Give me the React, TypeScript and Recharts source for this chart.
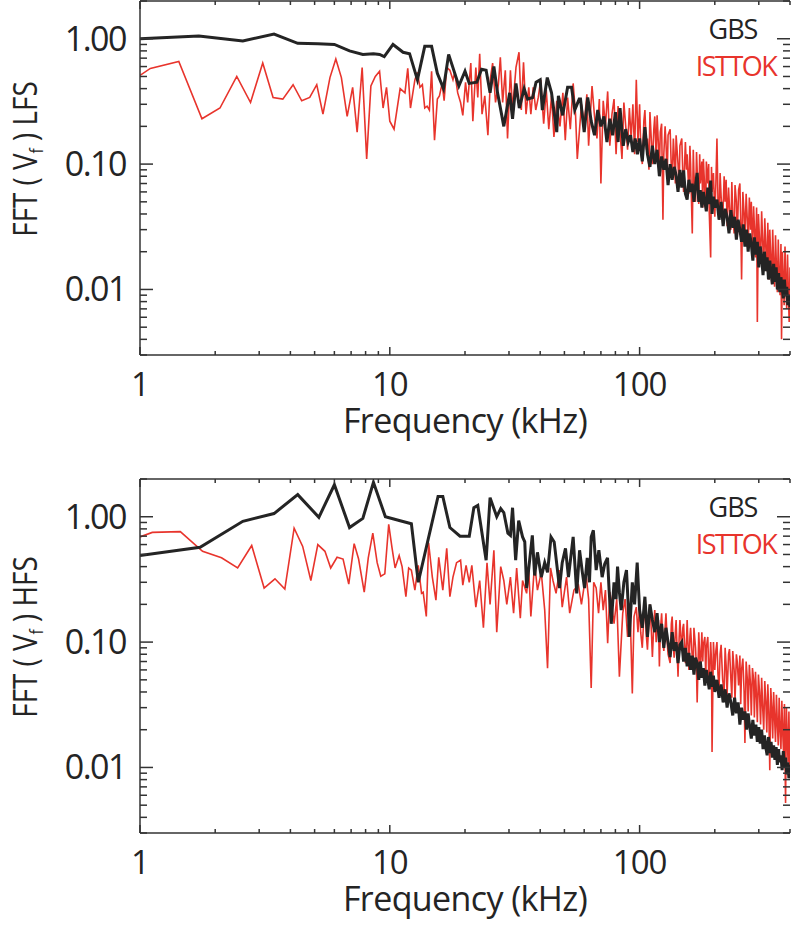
import { Customized, Line, LineChart, ReferenceLine, XAxis, YAxis } from 'recharts';

// [frequency kHz, amplitude]
const LFS_GBS = [
    [1, 1.0], [1.72, 1.05], [2.58, 0.96], [3.44, 1.09], [4.28, 0.92], [5.15, 0.91], [6.0, 0.9], [6.9, 0.8],
    [7.8, 0.75], [8.6, 0.76], [9.1, 0.75], [9.5, 0.72], [10.3, 0.9], [11.3, 0.78], [12.0, 0.76], [12.9, 0.47],
    [13.8, 0.87], [14.7, 0.87], [15.5, 0.53], [16.4, 0.4], [17.2, 0.75], [18.9, 0.42], [20, 0.55], [20.8, 0.44],
    [22.3, 0.45], [23.3, 0.57], [24.3, 0.56], [25.2, 0.37], [26.1, 0.6], [27, 0.37], [28.6, 0.2], [30.2, 0.37],
    [31, 0.23], [32, 0.44], [33, 0.28], [34.5, 0.4], [35.6, 0.33], [37.3, 0.34], [38.5, 0.45], [40, 0.47],
    [40.8, 0.27], [42.7, 0.49], [44.4, 0.37], [46.6, 0.18], [47.3, 0.35], [49.2, 0.245], [51.5, 0.41], [53.4, 0.41],
    [55, 0.27], [57.3, 0.33], [58, 0.33], [60, 0.18], [62, 0.34], [64, 0.22], [66, 0.17], [68, 0.27],
    [70, 0.2], [72, 0.24], [74, 0.15], [76, 0.23], [78, 0.17], [80, 0.26], [82, 0.15], [83.5, 0.28],
    [86, 0.14], [88, 0.19], [90, 0.15], [92, 0.17], [94, 0.125], [96, 0.16], [98, 0.12], [100, 0.16],
    [102.5, 0.105], [105, 0.197], [107.5, 0.12], [110, 0.095], [112.5, 0.14], [115, 0.1], [117.5, 0.13], [120, 0.08],
    [122.5, 0.115], [125, 0.09], [127.5, 0.11], [130, 0.068], [132.5, 0.1], [135, 0.075], [137.5, 0.095], [140, 0.082],
    [142.5, 0.06], [145, 0.09], [147.5, 0.065], [150, 0.089], [152.5, 0.058], [155, 0.052], [157.5, 0.075], [160, 0.06],
    [162.5, 0.07], [165, 0.05], [167.5, 0.068], [170, 0.085], [172.5, 0.05], [175, 0.062], [177.5, 0.045], [180, 0.06],
    [182.5, 0.05], [185, 0.042], [187.5, 0.065], [190, 0.048], [192.5, 0.074], [195, 0.04], [197.5, 0.055], [200, 0.045],
    [204, 0.052], [208, 0.036], [212, 0.05], [216, 0.032], [220, 0.044], [224, 0.038], [228, 0.028], [232, 0.043],
    [236, 0.031], [240, 0.038], [244, 0.025], [248, 0.036], [252, 0.03], [256, 0.024], [260, 0.033], [264, 0.022],
    [268, 0.03], [272, 0.02], [276, 0.028], [280, 0.023], [284, 0.017], [288, 0.026], [292, 0.019], [296, 0.024],
    [300, 0.015], [304, 0.022], [308, 0.018], [312, 0.013], [316, 0.02], [320, 0.014], [324, 0.018], [328, 0.012],
    [332, 0.017], [336, 0.0135], [340, 0.011], [344, 0.016], [348, 0.0115], [352, 0.015], [356, 0.01], [360, 0.0135],
    [364, 0.0095], [368, 0.0125], [372, 0.0105], [376, 0.0085], [380, 0.012], [384, 0.0088], [388, 0.0105], [392, 0.0075],
    [396, 0.009], [400, 0.0072],
];

const LFS_ISTTOK = [
    [1, 0.51], [1.1, 0.58], [1.43, 0.66], [1.77, 0.23], [2.09, 0.28], [2.44, 0.5], [2.77, 0.31], [3.1, 0.64],
    [3.41, 0.34], [3.73, 0.33], [4.1, 0.43], [4.44, 0.32], [4.78, 0.34], [5.1, 0.43], [5.4, 0.25], [5.76, 0.49],
    [6.08, 0.69], [6.4, 0.49], [6.75, 0.24], [7.1, 0.41], [7.4, 0.18], [7.75, 0.59], [8.08, 0.11], [8.4, 0.42],
    [8.75, 0.5], [9.1, 0.55], [9.4, 0.28], [9.7, 0.41], [10.0, 0.22], [10.4, 0.19], [11.0, 0.4], [11.5, 0.37],
    [11.8, 0.58], [12.1, 0.28], [12.6, 0.47], [12.9, 0.54], [13.2, 0.41], [13.5, 0.43], [13.8, 0.28], [14.1, 0.29],
    [14.4, 0.27], [14.7, 0.55], [15.1, 0.155], [15.5, 0.33], [15.8, 0.35], [16.2, 0.44], [16.5, 0.32], [16.9, 0.59],
    [17.4, 0.56], [17.9, 0.47], [18.2, 0.54], [18.7, 0.37], [19.2, 0.31], [19.6, 0.245], [20.1, 0.45], [20.5, 0.31],
    [21.1, 0.64], [21.5, 0.22], [22.1, 0.59], [22.5, 0.34], [22.9, 0.76], [23.4, 0.25], [24.0, 0.35], [24.7, 0.17],
    [25.3, 0.49], [25.8, 0.64], [26.5, 0.31], [27.2, 0.43], [27.7, 0.71], [28.3, 0.31], [29.0, 0.56], [29.6, 0.16],
    [30.4, 0.56], [31.0, 0.27], [32.0, 0.59], [32.9, 0.78], [33.6, 0.27], [34.3, 0.65], [35.1, 0.25], [36.0, 0.41],
    [36.7, 0.25], [37.5, 0.41], [38.4, 0.27], [39.3, 0.34], [40.2, 0.47], [41.3, 0.21], [42.3, 0.39], [43.3, 0.19],
    [44.4, 0.35], [45.4, 0.165], [46.6, 0.32], [48.0, 0.2], [49.3, 0.37], [50.4, 0.155], [51.5, 0.34], [52.8, 0.19],
    [54.2, 0.44], [55.4, 0.25], [56.3, 0.11], [57.5, 0.19], [58.5, 0.3], [60, 0.21], [61.5, 0.36], [62.5, 0.14],
    [64.5, 0.42], [66, 0.24], [67.5, 0.16], [69, 0.33], [70, 0.07], [71.5, 0.32], [73, 0.2], [74.5, 0.38],
    [76, 0.14], [77.5, 0.25], [79, 0.33], [80.5, 0.12], [82, 0.29], [83.5, 0.18], [85, 0.11], [86.5, 0.31],
    [88, 0.2], [89.5, 0.13], [91, 0.28], [92.5, 0.16], [94, 0.3], [95.5, 0.12], [97, 0.47], [98.5, 0.15],
    [100, 0.3], [101, 0.14], [102.5, 0.1], [104, 0.22], [105, 0.27], [106.5, 0.13], [107.5, 0.16], [109, 0.09],
    [110, 0.26], [111.5, 0.15], [112.5, 0.1], [114, 0.19], [115, 0.24], [116.5, 0.11], [117.5, 0.245], [119, 0.14],
    [120, 0.09], [121, 0.18], [122.5, 0.21], [124, 0.036], [125, 0.12], [126.5, 0.2], [127.5, 0.15], [129, 0.08],
    [130, 0.17], [132.5, 0.19], [134, 0.09], [135, 0.075], [136.5, 0.16], [137.5, 0.12], [139, 0.07], [140, 0.17],
    [142.5, 0.1], [144, 0.065], [145, 0.14], [147.5, 0.16], [149, 0.08], [150, 0.06], [152.5, 0.15], [154, 0.09],
    [155, 0.12], [157.5, 0.058], [159, 0.14], [160, 0.1], [162.5, 0.028], [164, 0.13], [165, 0.085], [167.5, 0.05],
    [169, 0.125], [170, 0.09], [172.5, 0.048], [174, 0.12], [175, 0.07], [177.5, 0.105], [179, 0.045], [180, 0.11],
    [182.5, 0.06], [184, 0.044], [185, 0.105], [187.5, 0.07], [189, 0.1], [190, 0.042], [192.5, 0.018], [194, 0.095],
    [195, 0.06], [197.5, 0.085], [200, 0.038], [202, 0.07], [204, 0.16], [206, 0.05], [208, 0.036], [210, 0.085],
    [212, 0.055], [215, 0.034], [218, 0.08], [220, 0.05], [222, 0.075], [224, 0.032], [227, 0.065], [229, 0.045],
    [232, 0.03], [234, 0.072], [236, 0.04], [239, 0.028], [241, 0.068], [244, 0.05], [246, 0.026], [249, 0.062],
    [252, 0.07], [254, 0.035], [256, 0.012], [259, 0.06], [262, 0.04], [264, 0.024], [267, 0.058], [270, 0.035],
    [272, 0.022], [275, 0.054], [278, 0.03], [280, 0.05], [283, 0.02], [286, 0.046], [288, 0.032], [291, 0.018],
    [294, 0.045], [296, 0.0055], [299, 0.04], [302, 0.025], [305, 0.016], [308, 0.042], [311, 0.024], [314, 0.015],
    [317, 0.037], [320, 0.022], [323, 0.014], [326, 0.034], [329, 0.012], [332, 0.03], [335, 0.018], [338, 0.011],
    [341, 0.03], [344, 0.016], [347, 0.0105], [350, 0.027], [353, 0.015], [356, 0.0095], [359, 0.025], [362, 0.013],
    [365, 0.009], [368, 0.023], [370, 0.004], [373, 0.02], [376, 0.012], [379, 0.0075], [382, 0.022], [385, 0.011],
    [388, 0.007], [391, 0.019], [394, 0.0095], [397, 0.0055], [400, 0.015],
];

const HFS_GBS = [
    [1, 0.49], [1.74, 0.57], [2.58, 0.92], [3.44, 1.06], [4.28, 1.5], [5.2, 0.99], [6.0, 1.8], [6.9, 0.82],
    [7.8, 0.97], [8.6, 1.88], [9.6, 1.0], [11.0, 0.93], [12.2, 0.88], [13.0, 0.3], [15.6, 1.45], [16.3, 1.45],
    [17.4, 0.82], [19.1, 0.7], [20.8, 0.7], [21.7, 1.18], [22.5, 1.23], [24.3, 0.45], [25.2, 1.42], [26.8, 1.0],
    [27.8, 1.16], [28.6, 1.08], [29.7, 0.74], [30.4, 0.71], [31.0, 1.18], [31.9, 0.45], [32.8, 0.93], [34.0, 0.69],
    [34.7, 0.63], [35.3, 0.27], [37.2, 0.71], [38.0, 0.34], [39.0, 0.52], [40.4, 0.33], [41.7, 0.43], [42.8, 0.36],
    [44.2, 0.69], [45.5, 0.63], [47.8, 0.27], [49.0, 0.43], [50.5, 0.56], [51.9, 0.33], [54.2, 0.69], [56.0, 0.245],
    [57.5, 0.54], [59, 0.36], [60.2, 0.27], [61.7, 0.47], [63, 0.3], [64, 0.69], [65.3, 0.78], [67, 0.375],
    [68.7, 0.54], [70.8, 0.33], [72.5, 0.42], [74.4, 0.47], [75.5, 0.26], [77, 0.14], [79, 0.3], [80.5, 0.22],
    [81.6, 0.4], [83, 0.25], [84.4, 0.18], [86.5, 0.3], [88.6, 0.375], [90, 0.2], [91, 0.11], [93.5, 0.3],
    [95.5, 0.2], [97.8, 0.43], [100, 0.18], [102.5, 0.13], [105, 0.23], [107.5, 0.11], [110, 0.2], [112.5, 0.15],
    [115, 0.12], [117.5, 0.17], [120, 0.1], [122.5, 0.14], [125, 0.09], [127.5, 0.13], [130, 0.1], [132.5, 0.076],
    [135, 0.12], [137.5, 0.085], [140, 0.1], [142.5, 0.068], [145, 0.095], [147.5, 0.1], [150, 0.07], [152.5, 0.09],
    [155, 0.064], [157.5, 0.082], [160, 0.06], [162.5, 0.078], [165, 0.055], [167.5, 0.075], [170, 0.068], [172.5, 0.05],
    [175, 0.07], [177.5, 0.052], [180, 0.062], [182.5, 0.045], [185, 0.06], [187.5, 0.05], [190, 0.042], [192.5, 0.058],
    [195, 0.044], [197.5, 0.054], [200, 0.04], [204, 0.05], [208, 0.036], [212, 0.046], [216, 0.033], [220, 0.042],
    [224, 0.03], [228, 0.039], [232, 0.033], [236, 0.026], [240, 0.036], [244, 0.027], [248, 0.033], [252, 0.022],
    [256, 0.03], [260, 0.024], [264, 0.028], [268, 0.02], [272, 0.027], [276, 0.021], [280, 0.017], [284, 0.024],
    [288, 0.018], [292, 0.022], [296, 0.016], [300, 0.021], [304, 0.0155], [308, 0.02], [312, 0.014], [316, 0.018],
    [320, 0.0145], [324, 0.0125], [328, 0.0175], [332, 0.013], [336, 0.016], [340, 0.012], [344, 0.015], [348, 0.0115],
    [352, 0.0145], [356, 0.0105], [360, 0.014], [364, 0.011], [368, 0.0125], [372, 0.0095], [376, 0.0135], [380, 0.01],
    [384, 0.012], [388, 0.0088], [392, 0.011], [396, 0.0082], [400, 0.0105],
];

const HFS_ISTTOK = [
    [1.0, 0.69], [1.12, 0.75], [1.45, 0.76], [1.78, 0.53], [2.12, 0.47], [2.46, 0.39], [2.8, 0.59], [3.14, 0.27],
    [3.47, 0.32], [3.8, 0.265], [4.14, 0.81], [4.48, 0.58], [4.83, 0.31], [5.15, 0.6], [5.5, 0.53], [5.8, 0.39],
    [6.15, 0.475], [6.5, 0.46], [6.85, 0.29], [7.2, 0.61], [7.5, 0.46], [7.9, 0.25], [8.2, 0.47], [8.55, 0.74],
    [8.9, 0.43], [9.2, 0.335], [9.55, 0.35], [9.9, 0.87], [10.2, 0.57], [10.5, 0.39], [10.9, 0.49], [11.2, 0.4],
    [11.6, 0.23], [11.9, 0.39], [12.2, 0.375], [12.6, 0.26], [13.0, 0.41], [13.4, 0.245], [13.6, 0.25], [14.0, 0.16],
    [14.3, 0.62], [14.8, 0.33], [15.3, 0.216], [15.7, 0.475], [16.3, 0.26], [16.9, 0.56], [17.4, 0.23], [17.9, 0.33],
    [18.5, 0.43], [19.2, 0.45], [19.6, 0.285], [20.2, 0.41], [20.8, 0.3], [21.3, 0.41], [22.1, 0.19], [22.9, 0.31],
    [23.7, 0.13], [24.5, 0.43], [25.2, 0.2], [26.1, 0.54], [26.8, 0.12], [27.8, 0.4], [28.6, 0.31], [29.4, 0.2],
    [30.4, 0.33], [31.3, 0.17], [32.2, 0.39], [33.3, 0.155], [34.0, 0.31], [35.3, 0.245], [36.0, 0.375], [36.7, 0.16],
    [38.0, 0.425], [39.0, 0.26], [40.4, 0.36], [41.7, 0.18], [42.8, 0.062], [44.0, 0.39], [45.0, 0.31], [46.3, 0.245],
    [47.8, 0.375], [49.0, 0.19], [51.0, 0.33], [52.5, 0.17], [54.6, 0.26], [56.9, 0.285], [58.5, 0.2], [61, 0.35],
    [62.5, 0.22], [64, 0.043], [65.5, 0.3], [67, 0.27], [68.5, 0.17], [70, 0.3], [71.5, 0.18], [73, 0.26],
    [74.5, 0.098], [76, 0.25], [77, 0.216], [79, 0.14], [81, 0.22], [83, 0.053], [85.6, 0.17], [87.5, 0.22],
    [89.5, 0.11], [91.5, 0.2], [93.5, 0.039], [95, 0.16], [97, 0.19], [98.5, 0.12], [100, 0.2], [101, 0.12],
    [102.5, 0.09], [104, 0.16], [105, 0.19], [106.5, 0.11], [107.5, 0.087], [109, 0.15], [110, 0.2], [111.5, 0.12],
    [112.5, 0.076], [114, 0.14], [115, 0.18], [116.5, 0.1], [117.5, 0.13], [119, 0.15], [120, 0.064], [121, 0.12],
    [122.5, 0.17], [124, 0.1], [125, 0.085], [126.5, 0.13], [127.5, 0.17], [129, 0.1], [130, 0.08], [132.5, 0.068],
    [134, 0.14], [135, 0.16], [136.5, 0.09], [137.5, 0.075], [139, 0.12], [140, 0.15], [142.5, 0.053], [144, 0.11],
    [145, 0.15], [147.5, 0.085], [149, 0.13], [150, 0.14], [152.5, 0.068], [154, 0.1], [155, 0.15], [157.5, 0.06],
    [159, 0.11], [160, 0.13], [162.5, 0.075], [164, 0.062], [165, 0.13], [167.5, 0.09], [169, 0.058], [170, 0.033],
    [172.5, 0.12], [174, 0.08], [175, 0.055], [177.5, 0.12], [179, 0.07], [180, 0.095], [182.5, 0.11], [184, 0.05],
    [185, 0.09], [187.5, 0.11], [189, 0.06], [190, 0.048], [192.5, 0.1], [194, 0.07], [195, 0.0133], [197.5, 0.1],
    [200, 0.06], [202, 0.085], [204, 0.1], [206, 0.055], [208, 0.043], [210, 0.08], [212, 0.095], [215, 0.05],
    [218, 0.04], [220, 0.09], [222, 0.065], [224, 0.038], [227, 0.08], [229, 0.088], [232, 0.05], [234, 0.036],
    [236, 0.085], [239, 0.06], [241, 0.034], [244, 0.08], [246, 0.07], [249, 0.045], [252, 0.078], [254, 0.032],
    [256, 0.06], [259, 0.074], [262, 0.04], [264, 0.0157], [267, 0.07], [270, 0.05], [272, 0.028], [275, 0.066],
    [278, 0.045], [280, 0.026], [283, 0.062], [286, 0.05], [288, 0.025], [291, 0.058], [294, 0.035], [296, 0.023],
    [299, 0.055], [302, 0.04], [305, 0.022], [308, 0.052], [311, 0.03], [314, 0.02], [317, 0.049], [320, 0.034],
    [323, 0.019], [326, 0.046], [329, 0.028], [332, 0.0095], [335, 0.043], [338, 0.03], [341, 0.017], [344, 0.04],
    [347, 0.025], [350, 0.016], [353, 0.038], [356, 0.022], [359, 0.015], [362, 0.036], [365, 0.02], [368, 0.014],
    [371, 0.034], [374, 0.019], [377, 0.013], [380, 0.032], [382, 0.012], [384, 0.0052], [387, 0.03], [390, 0.017],
    [393, 0.011], [396, 0.028], [398, 0.015], [400, 0.0085],
];

const X_TICKS = [1, 2, 3, 4, 5, 6, 7, 8, 9, 10, 20, 30, 40, 50, 60, 70, 80, 90, 100, 200, 300, 400];
const X_MAJOR = [1, 10, 100];
const Y_TICKS = [
    0.003, 0.004, 0.005, 0.006, 0.007, 0.008, 0.009, 0.01, 0.02, 0.03, 0.04, 0.05, 0.06, 0.07, 0.08, 0.09,
    0.1, 0.2, 0.3, 0.4, 0.5, 0.6, 0.7, 0.8, 0.9, 1, 2,
];
const Y_LABELS: Record<string, string> = { '0.01': '0.01', '0.1': '0.10', '1': '1.00' };

const FONT = '"Open Sans", "Noto Sans", sans-serif';
const INK = '#242424';
const RED = '#e8342c';
const AXIS = '#333';
const PLOT_W = 650;
const PLOT_H = 354;

const toPoints = (rows: number[][]) => rows.map(([f, v]) => ({ f, v }));

function XTick(props: any) {
    const { x, y, payload } = props;
    const major = X_MAJOR.includes(payload.value);
    const len = major ? 8 : 4;
    const top = y - PLOT_H;
    return (
        <g>
            <line x1={x} x2={x} y1={y} y2={y - len} stroke={AXIS} strokeWidth={1.5} />
            <line x1={x} x2={x} y1={top} y2={top + len} stroke={AXIS} strokeWidth={1.5} />
            {major && (
                <text x={x} y={y + 41} textAnchor="middle" fontFamily={FONT} fontSize={33} fill={INK} letterSpacing={-1}>
                    {payload.value}
                </text>
            )}
        </g>
    );
}

function YTick(props: any) {
    const { x, y, payload } = props;
    const label = Y_LABELS[String(payload.value)];
    const len = label ? 13 : 7;
    const right = x + PLOT_W;
    return (
        <g>
            <line x1={x} x2={x + len} y1={y} y2={y} stroke={AXIS} strokeWidth={1.5} />
            <line x1={right - len} x2={right} y1={y} y2={y} stroke={AXIS} strokeWidth={1.5} />
            {label && (
                <text x={x - 14} y={y + 12} textAnchor="end" fontFamily={FONT} fontSize={34} fill={INK} letterSpacing={-1.5}>
                    {label}
                </text>
            )}
        </g>
    );
}

interface PanelProps {
    gbs: number[][];
    isttok: number[][];
    side: string;
    height: number;
    marginTop: number;
}

function Panel({ gbs, isttok, side, height, marginTop }: PanelProps) {
    const plotTop = marginTop;
    const plotBottom = marginTop + PLOT_H;
    const Overlay = () => (
        <g fontFamily={FONT}>
            <text x={465} y={plotBottom + 78} textAnchor="middle" fontSize={34} fill={INK} letterSpacing={-0.6}>
                Frequency (kHz)
            </text>
            <text
                transform={`translate(37 ${plotTop + 158}) rotate(-90) scale(0.87 1)`}
                textAnchor="middle"
                fontSize={32}
                fill={INK}
            >
                FFT ( V
                <tspan fontSize={18} dy={6}>f</tspan>
                <tspan dy={-6}> ) {side}</tspan>
            </text>
            <text x={733} y={plotTop + 38} textAnchor="middle" fontSize={27} fill={INK} letterSpacing={-1}>
                GBS
            </text>
            <text x={736} y={plotTop + 75} textAnchor="middle" fontSize={27} fill={RED} letterSpacing={-1.5}>
                ISTTOK
            </text>
        </g>
    );
    return (
        <LineChart width={791} height={height} margin={{ top: marginTop, right: 1, bottom: 0, left: 0 }}>
            <XAxis
                dataKey="f"
                type="number"
                scale="log"
                domain={[1, 400]}
                allowDataOverflow
                ticks={X_TICKS}
                interval={0}
                tickSize={0}
                tickMargin={0}
                tickLine={false}
                height={height - marginTop - PLOT_H}
                axisLine={{ stroke: AXIS, strokeWidth: 1.5 }}
                tick={(p: any) => <XTick {...p} />}
            />
            <YAxis
                type="number"
                scale="log"
                domain={[0.003, 2]}
                allowDataOverflow
                ticks={Y_TICKS}
                interval={0}
                tickSize={0}
                tickMargin={0}
                tickLine={false}
                width={140}
                axisLine={{ stroke: AXIS, strokeWidth: 1.5 }}
                tick={(p: any) => <YTick {...p} />}
            />
            <ReferenceLine y={2} stroke={AXIS} strokeWidth={1.5} />
            <Line
                data={toPoints(isttok)}
                dataKey="v"
                type="linear"
                stroke={RED}
                strokeWidth={1.6}
                dot={false}
                activeDot={false}
                isAnimationActive={false}
            />
            <Line
                data={toPoints(gbs)}
                dataKey="v"
                type="linear"
                stroke={INK}
                strokeWidth={3}
                dot={false}
                activeDot={false}
                isAnimationActive={false}
            />
            <Customized component={Overlay} />
        </LineChart>
    );
}

export default function App() {
    return (
        <div style={{ position: 'absolute', left: 0, top: 0, width: 791, height: 928, background: '#fff' }}>
            <Panel gbs={LFS_GBS} isttok={LFS_ISTTOK} side="LFS" height={465} marginTop={1} />
            <Panel gbs={HFS_GBS} isttok={HFS_ISTTOK} side="HFS" height={463} marginTop={14} />
        </div>
    );
}
